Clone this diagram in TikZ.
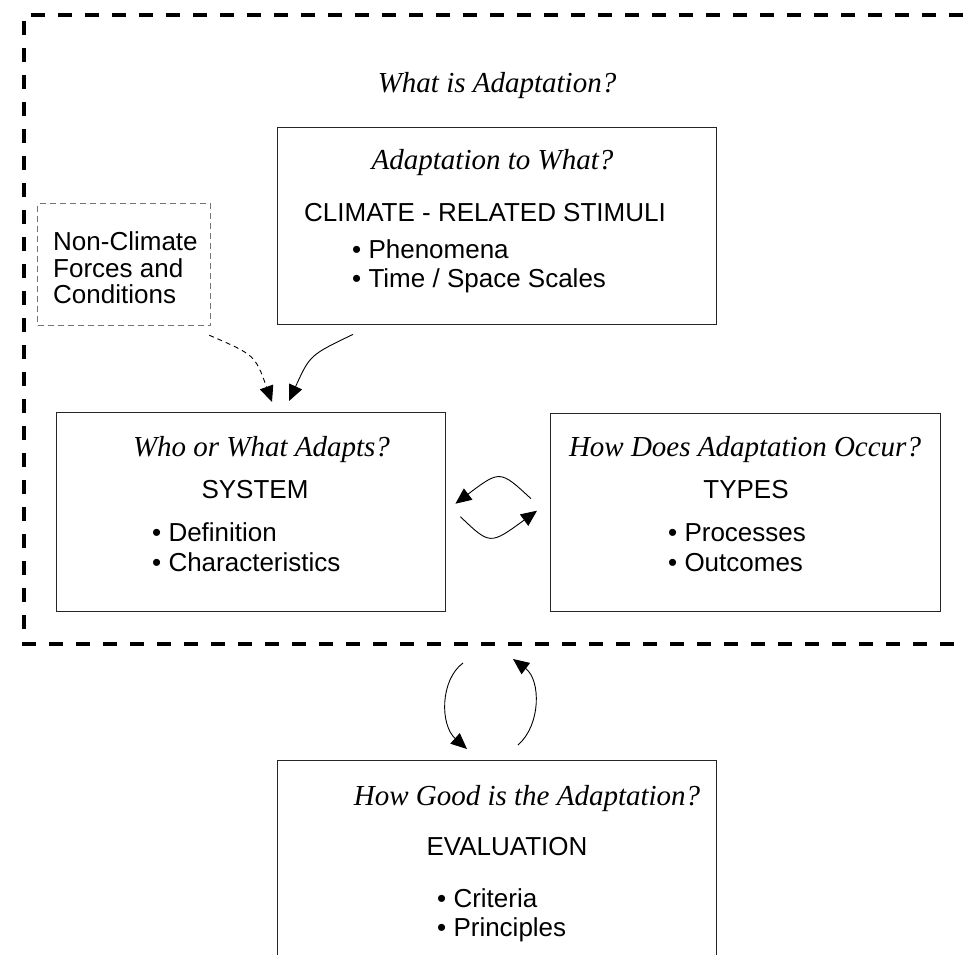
\documentclass[tikz,border=0pt]{standalone}
\usepackage{fontspec}
\setmainfont{Liberation Serif}
\setsansfont{Liberation Sans}
\usetikzlibrary{arrows.meta}
\begin{document}
\begin{tikzpicture}[x=1pt,y=-1pt,
  box/.style={draw=black!85, line width=1.4pt, inner sep=0pt, anchor=north west},
  ncbox/.style={draw=black!55, line width=1.2pt, dash pattern=on 6pt off 4pt, inner sep=0pt, anchor=north west},
  qtext/.style={font=\fontsize{29}{34}\selectfont\itshape, inner sep=0pt, anchor=base},
  hdtext/.style={font=\fontsize{26}{30}\selectfont\sffamily, inner sep=0pt, anchor=base},
  ittext/.style={font=\fontsize{26}{30}\selectfont\sffamily, inner sep=0pt, anchor=base west},
  arr/.style={line width=0.9pt, -{Triangle[length=16pt,width=14pt]}},
  darr/.style={arr, dash pattern=on 5pt off 4pt}
]
\clip (0,0) rectangle (966,955);
\fill[white] (0,0) rectangle (966,955);

% outer dashed frame
\draw[line width=4pt, dash pattern=on 14pt off 13pt] (990,15) -- (24,15) -- (24,644) -- (990,644);

% title
\node[qtext] (title) at (497,93) {What is Adaptation?};

% boxes
\node[box, minimum width=439pt, minimum height=197pt] (topbox) at (277,127) {};
\node[ncbox, minimum width=173pt, minimum height=122pt] (ncbox) at (37,203) {};
\node[box, minimum width=389pt, minimum height=199pt] (sysbox) at (56,412) {};
\node[box, minimum width=390pt, minimum height=198pt] (typebox) at (550,413) {};
\node[box, minimum width=439pt, minimum height=230pt] (evalbox) at (277,760) {};

% top box text
\node[qtext] (tq) at (492.5,169) {Adaptation to What?};
\node[hdtext] (th) at (485,221) {CLIMATE - RELATED STIMULI};
\node[ittext] (t1) at (352,258) {• Phenomena};
\node[ittext] (t2) at (352,287) {• Time / Space Scales};

% non-climate text
\node[ittext] (n1) at (53,250) {Non-Climate};
\node[ittext] (n2) at (53,277) {Forces and};
\node[ittext] (n3) at (53,303) {Conditions};

% system box text
\node[qtext] (sq) at (261.5,456) {Who or What Adapts?};
\node[hdtext] (sh) at (255,498) {SYSTEM};
\node[ittext] (s1) at (152,541) {• Definition};
\node[ittext] (s2) at (152,571) {• Characteristics};

% types box text
\node[qtext] (yq) at (745,456) {How Does Adaptation Occur?};
\node[hdtext] (yh) at (746,498) {TYPES};
\node[ittext] (y1) at (668,541) {• Processes};
\node[ittext] (y2) at (668,571) {• Outcomes};

% evaluation box text
\node[qtext] (eq) at (527,805) {How Good is the Adaptation?};
\node[hdtext] (eh) at (507,855) {EVALUATION};
\node[ittext] (e1) at (437,907) {• Criteria};
\node[ittext] (e2) at (437,936) {• Principles};

% connectors
\draw[arr] ([shift={(76,9)}]topbox.south west) .. controls (310,355) .. ([shift={(233,-11)}]sysbox.north west);
\draw[darr] ([shift={(-2,9)}]ncbox.south east) .. controls (255,355) .. ([shift={(216,-10)}]sysbox.north west);

\draw[arr] ([shift={(-19,-14)}]typebox.west) .. controls (500,470) .. ([shift={(9,-8.5)}]sysbox.east);
\draw[arr] ([shift={(14,4.5)}]sysbox.east) .. controls (490,545) .. ([shift={(-13,-2)}]typebox.west);

\draw[arr] ([shift={(186,-97)}]evalbox.north west) .. controls (440,680) and (440,725) .. ([shift={(190,-11)}]evalbox.north west);
\draw[arr] ([shift={(241,-15)}]evalbox.north west) .. controls (541,725) and (541,680) .. ([shift={(236,-101)}]evalbox.north west);
\end{tikzpicture}
\end{document}
